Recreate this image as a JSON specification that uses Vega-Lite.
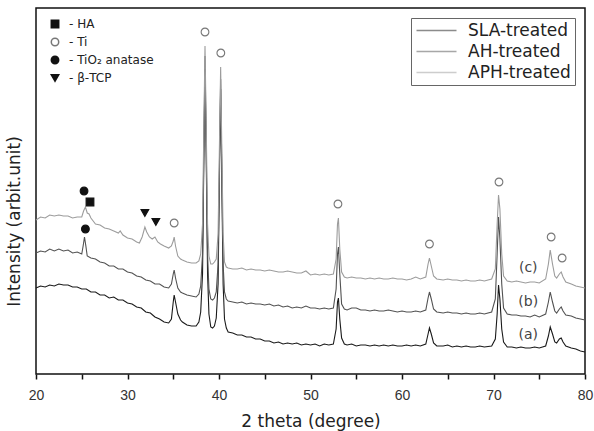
{
  "$schema": "https://vega.github.io/schema/vega-lite/v6.json",
  "width": 549,
  "height": 366,
  "autosize": {"type": "none"},
  "padding": {"left": 36, "top": 8, "right": 9, "bottom": 57},
  "background": "white",
  "config": {
    "view": {"stroke": "#111", "strokeWidth": 1.5},
    "font": "DejaVu Sans"
  },
  "datasets": {
    "a": [
      {"theta": 20.0, "intensity": 86}, {"theta": 20.5, "intensity": 88}, {"theta": 21.0, "intensity": 87}, {"theta": 21.5, "intensity": 89},
      {"theta": 22.0, "intensity": 88}, {"theta": 22.5, "intensity": 90}, {"theta": 23.0, "intensity": 89}, {"theta": 23.5, "intensity": 89},
      {"theta": 24.0, "intensity": 87}, {"theta": 24.5, "intensity": 87}, {"theta": 25.0, "intensity": 85}, {"theta": 25.5, "intensity": 85},
      {"theta": 26.0, "intensity": 82}, {"theta": 26.5, "intensity": 82}, {"theta": 27.0, "intensity": 79}, {"theta": 27.5, "intensity": 79},
      {"theta": 28.0, "intensity": 76}, {"theta": 28.5, "intensity": 77}, {"theta": 29.0, "intensity": 74}, {"theta": 29.5, "intensity": 74},
      {"theta": 30.0, "intensity": 71}, {"theta": 30.5, "intensity": 70}, {"theta": 31.0, "intensity": 67}, {"theta": 31.5, "intensity": 66},
      {"theta": 32.0, "intensity": 62}, {"theta": 32.5, "intensity": 61}, {"theta": 33.0, "intensity": 57}, {"theta": 33.5, "intensity": 55},
      {"theta": 34.0, "intensity": 52}, {"theta": 34.5, "intensity": 51}, {"theta": 34.8, "intensity": 55}, {"theta": 35.0, "intensity": 72},
      {"theta": 35.1, "intensity": 79}, {"theta": 35.25, "intensity": 72}, {"theta": 35.5, "intensity": 60}, {"theta": 35.8, "intensity": 54},
      {"theta": 36.0, "intensity": 52}, {"theta": 36.5, "intensity": 49}, {"theta": 37.0, "intensity": 48}, {"theta": 37.5, "intensity": 48},
      {"theta": 37.8, "intensity": 52}, {"theta": 38.0, "intensity": 62}, {"theta": 38.2, "intensity": 100}, {"theta": 38.35, "intensity": 220},
      {"theta": 38.47, "intensity": 305}, {"theta": 38.6, "intensity": 220}, {"theta": 38.75, "intensity": 100}, {"theta": 38.9, "intensity": 60},
      {"theta": 39.1, "intensity": 47}, {"theta": 39.3, "intensity": 46}, {"theta": 39.5, "intensity": 48}, {"theta": 39.7, "intensity": 56},
      {"theta": 39.9, "intensity": 90}, {"theta": 40.05, "intensity": 200}, {"theta": 40.18, "intensity": 285}, {"theta": 40.3, "intensity": 200},
      {"theta": 40.45, "intensity": 90}, {"theta": 40.6, "intensity": 55}, {"theta": 40.8, "intensity": 46}, {"theta": 41.0, "intensity": 42},
      {"theta": 41.5, "intensity": 41}, {"theta": 42.0, "intensity": 39}, {"theta": 42.5, "intensity": 39}, {"theta": 43.0, "intensity": 37},
      {"theta": 43.5, "intensity": 37}, {"theta": 44.0, "intensity": 35}, {"theta": 44.5, "intensity": 35}, {"theta": 45.0, "intensity": 33},
      {"theta": 45.5, "intensity": 33}, {"theta": 46.0, "intensity": 31}, {"theta": 46.5, "intensity": 32}, {"theta": 47.0, "intensity": 30},
      {"theta": 47.5, "intensity": 31}, {"theta": 48.0, "intensity": 30}, {"theta": 48.5, "intensity": 31}, {"theta": 49.0, "intensity": 29},
      {"theta": 49.5, "intensity": 30}, {"theta": 50.0, "intensity": 29}, {"theta": 50.5, "intensity": 30}, {"theta": 51.0, "intensity": 28},
      {"theta": 51.5, "intensity": 30}, {"theta": 52.0, "intensity": 29}, {"theta": 52.5, "intensity": 30}, {"theta": 52.8, "intensity": 45},
      {"theta": 52.95, "intensity": 72}, {"theta": 53.05, "intensity": 76}, {"theta": 53.2, "intensity": 55}, {"theta": 53.4, "intensity": 36},
      {"theta": 53.7, "intensity": 30}, {"theta": 54.0, "intensity": 29}, {"theta": 54.5, "intensity": 30}, {"theta": 55.0, "intensity": 28},
      {"theta": 55.5, "intensity": 29}, {"theta": 56.0, "intensity": 29}, {"theta": 56.5, "intensity": 28}, {"theta": 57.0, "intensity": 29},
      {"theta": 57.5, "intensity": 28}, {"theta": 58.0, "intensity": 29}, {"theta": 58.5, "intensity": 28}, {"theta": 59.0, "intensity": 29},
      {"theta": 59.5, "intensity": 28}, {"theta": 60.0, "intensity": 28}, {"theta": 60.5, "intensity": 29}, {"theta": 61.0, "intensity": 28},
      {"theta": 61.5, "intensity": 29}, {"theta": 62.0, "intensity": 28}, {"theta": 62.6, "intensity": 30}, {"theta": 62.85, "intensity": 40},
      {"theta": 63.0, "intensity": 46}, {"theta": 63.2, "intensity": 40}, {"theta": 63.45, "intensity": 31}, {"theta": 63.8, "intensity": 28},
      {"theta": 64.5, "intensity": 28}, {"theta": 65.0, "intensity": 29}, {"theta": 65.5, "intensity": 27}, {"theta": 66.0, "intensity": 28},
      {"theta": 66.5, "intensity": 27}, {"theta": 67.0, "intensity": 28}, {"theta": 67.5, "intensity": 27}, {"theta": 68.0, "intensity": 27},
      {"theta": 68.5, "intensity": 28}, {"theta": 69.0, "intensity": 27}, {"theta": 69.8, "intensity": 28}, {"theta": 70.2, "intensity": 35},
      {"theta": 70.4, "intensity": 60}, {"theta": 70.55, "intensity": 89}, {"theta": 70.7, "intensity": 75}, {"theta": 70.9, "intensity": 45},
      {"theta": 71.1, "intensity": 32}, {"theta": 71.5, "intensity": 27}, {"theta": 72.0, "intensity": 27}, {"theta": 72.5, "intensity": 26},
      {"theta": 73.0, "intensity": 27}, {"theta": 73.5, "intensity": 26}, {"theta": 74.0, "intensity": 26}, {"theta": 74.5, "intensity": 27},
      {"theta": 75.0, "intensity": 26}, {"theta": 75.7, "intensity": 28}, {"theta": 76.0, "intensity": 38}, {"theta": 76.2, "intensity": 47},
      {"theta": 76.45, "intensity": 40}, {"theta": 76.7, "intensity": 32}, {"theta": 76.9, "intensity": 31}, {"theta": 77.2, "intensity": 35},
      {"theta": 77.4, "intensity": 36}, {"theta": 77.6, "intensity": 32}, {"theta": 77.9, "intensity": 28}, {"theta": 78.5, "intensity": 26},
      {"theta": 79.0, "intensity": 25}, {"theta": 79.5, "intensity": 23}, {"theta": 80.0, "intensity": 22}
    ],
    "b": [
      {"theta": 20.0, "intensity": 121}, {"theta": 20.5, "intensity": 123}, {"theta": 21.0, "intensity": 122}, {"theta": 21.5, "intensity": 125},
      {"theta": 22.0, "intensity": 123}, {"theta": 22.5, "intensity": 125}, {"theta": 23.0, "intensity": 123}, {"theta": 23.5, "intensity": 124},
      {"theta": 24.0, "intensity": 121}, {"theta": 24.5, "intensity": 122}, {"theta": 25.0, "intensity": 120}, {"theta": 25.15, "intensity": 128},
      {"theta": 25.3, "intensity": 137}, {"theta": 25.45, "intensity": 128}, {"theta": 25.6, "intensity": 118}, {"theta": 26.0, "intensity": 116},
      {"theta": 26.5, "intensity": 115}, {"theta": 27.0, "intensity": 112}, {"theta": 27.5, "intensity": 111}, {"theta": 28.0, "intensity": 108},
      {"theta": 28.5, "intensity": 108}, {"theta": 29.0, "intensity": 105}, {"theta": 29.5, "intensity": 105}, {"theta": 30.0, "intensity": 102},
      {"theta": 30.5, "intensity": 101}, {"theta": 31.0, "intensity": 98}, {"theta": 31.5, "intensity": 97}, {"theta": 32.0, "intensity": 94},
      {"theta": 32.5, "intensity": 93}, {"theta": 33.0, "intensity": 90}, {"theta": 33.5, "intensity": 90}, {"theta": 34.0, "intensity": 87},
      {"theta": 34.5, "intensity": 86}, {"theta": 34.8, "intensity": 90}, {"theta": 35.0, "intensity": 100}, {"theta": 35.1, "intensity": 104},
      {"theta": 35.25, "intensity": 96}, {"theta": 35.5, "intensity": 86}, {"theta": 35.8, "intensity": 82}, {"theta": 36.0, "intensity": 81},
      {"theta": 36.5, "intensity": 79}, {"theta": 37.0, "intensity": 78}, {"theta": 37.5, "intensity": 77}, {"theta": 37.8, "intensity": 80},
      {"theta": 38.0, "intensity": 88}, {"theta": 38.2, "intensity": 120}, {"theta": 38.35, "intensity": 230}, {"theta": 38.47, "intensity": 318},
      {"theta": 38.6, "intensity": 230}, {"theta": 38.75, "intensity": 120}, {"theta": 38.9, "intensity": 85}, {"theta": 39.1, "intensity": 75},
      {"theta": 39.3, "intensity": 74}, {"theta": 39.5, "intensity": 76}, {"theta": 39.7, "intensity": 82}, {"theta": 39.9, "intensity": 110},
      {"theta": 40.05, "intensity": 210}, {"theta": 40.18, "intensity": 295}, {"theta": 40.3, "intensity": 210}, {"theta": 40.45, "intensity": 110},
      {"theta": 40.6, "intensity": 82}, {"theta": 40.8, "intensity": 75}, {"theta": 41.0, "intensity": 73}, {"theta": 41.5, "intensity": 72},
      {"theta": 42.0, "intensity": 71}, {"theta": 42.5, "intensity": 72}, {"theta": 43.0, "intensity": 70}, {"theta": 43.5, "intensity": 71},
      {"theta": 44.0, "intensity": 70}, {"theta": 44.5, "intensity": 70}, {"theta": 45.0, "intensity": 69}, {"theta": 45.5, "intensity": 70},
      {"theta": 46.0, "intensity": 68}, {"theta": 46.5, "intensity": 69}, {"theta": 47.0, "intensity": 67}, {"theta": 47.5, "intensity": 68},
      {"theta": 48.0, "intensity": 66}, {"theta": 48.5, "intensity": 67}, {"theta": 49.0, "intensity": 66}, {"theta": 49.5, "intensity": 68},
      {"theta": 50.0, "intensity": 66}, {"theta": 50.5, "intensity": 66}, {"theta": 51.0, "intensity": 65}, {"theta": 51.5, "intensity": 66},
      {"theta": 52.0, "intensity": 65}, {"theta": 52.5, "intensity": 66}, {"theta": 52.8, "intensity": 85}, {"theta": 52.95, "intensity": 120},
      {"theta": 53.05, "intensity": 127}, {"theta": 53.2, "intensity": 100}, {"theta": 53.4, "intensity": 70}, {"theta": 53.7, "intensity": 65},
      {"theta": 54.0, "intensity": 64}, {"theta": 54.5, "intensity": 66}, {"theta": 55.0, "intensity": 66}, {"theta": 55.5, "intensity": 64},
      {"theta": 56.0, "intensity": 64}, {"theta": 56.5, "intensity": 63}, {"theta": 57.0, "intensity": 64}, {"theta": 57.5, "intensity": 63},
      {"theta": 58.0, "intensity": 63}, {"theta": 58.5, "intensity": 64}, {"theta": 59.0, "intensity": 63}, {"theta": 59.5, "intensity": 62},
      {"theta": 60.0, "intensity": 63}, {"theta": 60.5, "intensity": 62}, {"theta": 61.0, "intensity": 62}, {"theta": 61.5, "intensity": 63},
      {"theta": 62.0, "intensity": 62}, {"theta": 62.6, "intensity": 64}, {"theta": 62.85, "intensity": 76}, {"theta": 63.0, "intensity": 82},
      {"theta": 63.2, "intensity": 75}, {"theta": 63.45, "intensity": 65}, {"theta": 63.8, "intensity": 62}, {"theta": 64.5, "intensity": 61},
      {"theta": 65.0, "intensity": 62}, {"theta": 65.5, "intensity": 61}, {"theta": 66.0, "intensity": 61}, {"theta": 66.5, "intensity": 60},
      {"theta": 67.0, "intensity": 61}, {"theta": 67.5, "intensity": 60}, {"theta": 68.0, "intensity": 60}, {"theta": 68.5, "intensity": 61},
      {"theta": 69.0, "intensity": 60}, {"theta": 69.8, "intensity": 62}, {"theta": 70.2, "intensity": 75}, {"theta": 70.4, "intensity": 120},
      {"theta": 70.55, "intensity": 157}, {"theta": 70.7, "intensity": 135}, {"theta": 70.9, "intensity": 90}, {"theta": 71.1, "intensity": 66},
      {"theta": 71.5, "intensity": 60}, {"theta": 72.0, "intensity": 59}, {"theta": 72.5, "intensity": 59}, {"theta": 73.0, "intensity": 58},
      {"theta": 73.5, "intensity": 58}, {"theta": 74.0, "intensity": 57}, {"theta": 74.5, "intensity": 59}, {"theta": 75.0, "intensity": 57},
      {"theta": 75.7, "intensity": 60}, {"theta": 76.0, "intensity": 72}, {"theta": 76.2, "intensity": 82}, {"theta": 76.45, "intensity": 72},
      {"theta": 76.7, "intensity": 63}, {"theta": 76.9, "intensity": 61}, {"theta": 77.2, "intensity": 65}, {"theta": 77.4, "intensity": 67},
      {"theta": 77.6, "intensity": 63}, {"theta": 77.9, "intensity": 59}, {"theta": 78.5, "intensity": 58}, {"theta": 79.0, "intensity": 56},
      {"theta": 79.5, "intensity": 55}, {"theta": 80.0, "intensity": 54}
    ],
    "c": [
      {"theta": 20.0, "intensity": 154}, {"theta": 20.5, "intensity": 157}, {"theta": 21.0, "intensity": 156}, {"theta": 21.5, "intensity": 159},
      {"theta": 22.0, "intensity": 158}, {"theta": 22.5, "intensity": 159}, {"theta": 23.0, "intensity": 158}, {"theta": 23.5, "intensity": 158},
      {"theta": 24.0, "intensity": 156}, {"theta": 24.5, "intensity": 157}, {"theta": 25.0, "intensity": 157}, {"theta": 25.2, "intensity": 163},
      {"theta": 25.4, "intensity": 167}, {"theta": 25.6, "intensity": 161}, {"theta": 25.8, "intensity": 160}, {"theta": 26.0, "intensity": 156},
      {"theta": 26.5, "intensity": 150}, {"theta": 27.0, "intensity": 149}, {"theta": 27.5, "intensity": 146}, {"theta": 28.0, "intensity": 145},
      {"theta": 28.5, "intensity": 143}, {"theta": 29.0, "intensity": 141}, {"theta": 29.2, "intensity": 143}, {"theta": 29.5, "intensity": 139},
      {"theta": 30.0, "intensity": 136}, {"theta": 30.5, "intensity": 135}, {"theta": 31.0, "intensity": 132}, {"theta": 31.3, "intensity": 131},
      {"theta": 31.6, "intensity": 137}, {"theta": 31.9, "intensity": 147}, {"theta": 32.1, "intensity": 142}, {"theta": 32.4, "intensity": 137},
      {"theta": 32.7, "intensity": 135}, {"theta": 33.0, "intensity": 137}, {"theta": 33.3, "intensity": 132}, {"theta": 33.6, "intensity": 130},
      {"theta": 34.0, "intensity": 128}, {"theta": 34.5, "intensity": 126}, {"theta": 34.8, "intensity": 128}, {"theta": 35.0, "intensity": 133},
      {"theta": 35.1, "intensity": 137}, {"theta": 35.25, "intensity": 128}, {"theta": 35.5, "intensity": 118}, {"theta": 35.8, "intensity": 115},
      {"theta": 36.0, "intensity": 114}, {"theta": 36.5, "intensity": 112}, {"theta": 37.0, "intensity": 111}, {"theta": 37.5, "intensity": 111},
      {"theta": 37.8, "intensity": 113}, {"theta": 38.0, "intensity": 120}, {"theta": 38.2, "intensity": 150}, {"theta": 38.35, "intensity": 250},
      {"theta": 38.47, "intensity": 328}, {"theta": 38.6, "intensity": 250}, {"theta": 38.75, "intensity": 150}, {"theta": 38.9, "intensity": 118},
      {"theta": 39.1, "intensity": 110}, {"theta": 39.3, "intensity": 110}, {"theta": 39.5, "intensity": 112}, {"theta": 39.7, "intensity": 115},
      {"theta": 39.9, "intensity": 140}, {"theta": 40.05, "intensity": 230}, {"theta": 40.18, "intensity": 307}, {"theta": 40.3, "intensity": 230},
      {"theta": 40.45, "intensity": 140}, {"theta": 40.6, "intensity": 112}, {"theta": 40.8, "intensity": 107}, {"theta": 41.0, "intensity": 106},
      {"theta": 41.5, "intensity": 105}, {"theta": 42.0, "intensity": 105}, {"theta": 42.5, "intensity": 106}, {"theta": 43.0, "intensity": 104},
      {"theta": 43.5, "intensity": 105}, {"theta": 44.0, "intensity": 104}, {"theta": 44.5, "intensity": 104}, {"theta": 45.0, "intensity": 103},
      {"theta": 45.5, "intensity": 104}, {"theta": 46.0, "intensity": 103}, {"theta": 46.5, "intensity": 102}, {"theta": 47.0, "intensity": 102},
      {"theta": 47.5, "intensity": 103}, {"theta": 48.0, "intensity": 102}, {"theta": 48.5, "intensity": 101}, {"theta": 49.0, "intensity": 101},
      {"theta": 49.5, "intensity": 103}, {"theta": 50.0, "intensity": 99}, {"theta": 50.5, "intensity": 100}, {"theta": 51.0, "intensity": 99},
      {"theta": 51.5, "intensity": 100}, {"theta": 52.0, "intensity": 99}, {"theta": 52.5, "intensity": 100}, {"theta": 52.8, "intensity": 115},
      {"theta": 52.95, "intensity": 150}, {"theta": 53.05, "intensity": 156}, {"theta": 53.2, "intensity": 125}, {"theta": 53.4, "intensity": 102},
      {"theta": 53.7, "intensity": 97}, {"theta": 54.0, "intensity": 96}, {"theta": 54.5, "intensity": 97}, {"theta": 55.0, "intensity": 96},
      {"theta": 55.5, "intensity": 96}, {"theta": 56.0, "intensity": 95}, {"theta": 56.5, "intensity": 96}, {"theta": 57.0, "intensity": 95},
      {"theta": 57.5, "intensity": 96}, {"theta": 58.0, "intensity": 95}, {"theta": 58.5, "intensity": 95}, {"theta": 59.0, "intensity": 96},
      {"theta": 59.5, "intensity": 95}, {"theta": 60.0, "intensity": 95}, {"theta": 60.5, "intensity": 94}, {"theta": 61.0, "intensity": 95},
      {"theta": 61.5, "intensity": 97}, {"theta": 62.0, "intensity": 95}, {"theta": 62.6, "intensity": 97}, {"theta": 62.85, "intensity": 110},
      {"theta": 63.0, "intensity": 116}, {"theta": 63.2, "intensity": 108}, {"theta": 63.45, "intensity": 98}, {"theta": 63.8, "intensity": 95},
      {"theta": 64.5, "intensity": 94}, {"theta": 65.0, "intensity": 95}, {"theta": 65.5, "intensity": 94}, {"theta": 66.0, "intensity": 94},
      {"theta": 66.5, "intensity": 93}, {"theta": 67.0, "intensity": 94}, {"theta": 67.5, "intensity": 93}, {"theta": 68.0, "intensity": 93},
      {"theta": 68.5, "intensity": 94}, {"theta": 69.0, "intensity": 93}, {"theta": 69.8, "intensity": 95}, {"theta": 70.2, "intensity": 105},
      {"theta": 70.4, "intensity": 150}, {"theta": 70.55, "intensity": 179}, {"theta": 70.7, "intensity": 165}, {"theta": 70.9, "intensity": 120},
      {"theta": 71.1, "intensity": 98}, {"theta": 71.5, "intensity": 93}, {"theta": 72.0, "intensity": 92}, {"theta": 72.5, "intensity": 93},
      {"theta": 73.0, "intensity": 92}, {"theta": 73.5, "intensity": 91}, {"theta": 74.0, "intensity": 92}, {"theta": 74.5, "intensity": 92},
      {"theta": 75.0, "intensity": 91}, {"theta": 75.7, "intensity": 95}, {"theta": 76.0, "intensity": 110}, {"theta": 76.2, "intensity": 124},
      {"theta": 76.45, "intensity": 110}, {"theta": 76.7, "intensity": 98}, {"theta": 76.9, "intensity": 96}, {"theta": 77.2, "intensity": 100},
      {"theta": 77.4, "intensity": 102}, {"theta": 77.6, "intensity": 97}, {"theta": 77.9, "intensity": 92}, {"theta": 78.5, "intensity": 90},
      {"theta": 79.0, "intensity": 88}, {"theta": 79.5, "intensity": 87}, {"theta": 80.0, "intensity": 86}
    ],
    "markers": [
      {"phase": "TiO₂ anatase", "theta": 25.25, "intensity": 183},
      {"phase": "HA", "theta": 25.9, "intensity": 172},
      {"phase": "TiO₂ anatase", "theta": 25.4, "intensity": 145},
      {"phase": "β-TCP", "theta": 31.9, "intensity": 161},
      {"phase": "β-TCP", "theta": 33.1, "intensity": 152},
      {"phase": "Ti", "theta": 35.1, "intensity": 151},
      {"phase": "Ti", "theta": 38.47, "intensity": 342},
      {"phase": "Ti", "theta": 40.2, "intensity": 321},
      {"phase": "Ti", "theta": 53.0, "intensity": 170},
      {"phase": "Ti", "theta": 63.0, "intensity": 130},
      {"phase": "Ti", "theta": 70.6, "intensity": 192},
      {"phase": "Ti", "theta": 76.3, "intensity": 137},
      {"phase": "Ti", "theta": 77.5, "intensity": 116}
    ],
    "tags": [
      {"tag": "(c)", "theta": 73.8, "intensity": 106},
      {"tag": "(b)", "theta": 73.8, "intensity": 72},
      {"tag": "(a)", "theta": 73.8, "intensity": 39}
    ]
  },
  "encoding": {
    "x": {
      "field": "theta",
      "type": "quantitative",
      "scale": {"domain": [20, 80], "nice": false, "zero": false},
      "axis": {
        "title": "2 theta (degree)",
        "grid": false,
        "domain": false,
        "values": [20, 25, 30, 35, 40, 45, 50, 55, 60, 65, 70, 75, 80],
        "labelExpr": "datum.value % 10 === 0 ? datum.label : ''",
        "tickSize": 5,
        "tickColor": "#111",
        "tickWidth": 1.5,
        "labelFont": "Liberation Sans",
        "labelFontSize": 14,
        "labelColor": "#333",
        "labelPadding": 9,
        "labelFlush": false,
        "titleFont": "DejaVu Sans",
        "titleFontSize": 17,
        "titleFontWeight": "normal",
        "titleColor": "#222",
        "titlePadding": 11
      }
    },
    "y": {
      "field": "intensity",
      "type": "quantitative",
      "scale": {"domain": [0, 366], "nice": false},
      "axis": {
        "title": "Intensity (arbit.unit)",
        "ticks": false,
        "labels": false,
        "domain": false,
        "grid": false,
        "titleX": -22,
        "titleY": 213,
        "titleAngle": -90,
        "titleAlign": "center",
        "titleBaseline": "middle",
        "titleFont": "DejaVu Sans",
        "titleFontSize": 17,
        "titleFontWeight": "normal",
        "titleColor": "#222"
      }
    }
  },
  "layer": [
    {
      "data": {"name": "a"},
      "mark": {"type": "line", "strokeWidth": 1.1},
      "encoding": {
        "color": {
          "datum": "SLA-treated",
          "type": "nominal",
          "scale": {"domain": ["SLA-treated", "AH-treated", "APH-treated"], "range": ["#1a1a1a", "#525252", "#9c9c9c"]},
          "legend": {
            "title": null,
            "orient": "top-right",
            "offset": 10,
            "symbolType": "M-4,0H4",
            "symbolSize": 100,
            "symbolStrokeWidth": 1.5,
            "symbolOpacity": 0.5,
            "symbolOffset": 13,
            "labelOffset": 23,
            "labelFont": "DejaVu Sans",
            "labelFontSize": 17,
            "labelColor": "#222",
            "strokeColor": "#666",
            "fillColor": "white",
            "padding": 4,
            "rowPadding": 3,
            "cornerRadius": 0
          }
        }
      }
    },
    {
      "data": {"name": "b"},
      "mark": {"type": "line", "strokeWidth": 1.1},
      "encoding": {"color": {"datum": "AH-treated", "type": "nominal"}}
    },
    {
      "data": {"name": "c"},
      "mark": {"type": "line", "strokeWidth": 1.1},
      "encoding": {"color": {"datum": "APH-treated", "type": "nominal"}}
    },
    {
      "data": {"name": "markers"},
      "mark": {"type": "point", "filled": true, "size": 60, "strokeWidth": 1.1, "opacity": 1},
      "encoding": {
        "shape": {
          "field": "phase",
          "type": "nominal",
          "scale": {"domain": ["HA", "Ti", "TiO₂ anatase", "β-TCP"], "range": ["square", "circle", "circle", "triangle-down"]},
          "legend": {
            "title": null,
            "orient": "top-left",
            "offset": 10,
            "padding": 0,
            "symbolSize": 55,
            "symbolOffset": 3,
            "labelOffset": 8,
            "rowPadding": 4,
            "labelFont": "DejaVu Sans",
            "labelFontSize": 12,
            "labelColor": "#222",
            "labelExpr": "'- ' + datum.label"
          }
        },
        "fill": {
          "field": "phase",
          "type": "nominal",
          "scale": {"domain": ["HA", "Ti", "TiO₂ anatase", "β-TCP"], "range": ["#111", "#ffffff", "#111", "#111"]},
          "legend": {
            "title": null,
            "orient": "top-left",
            "offset": 10,
            "padding": 0,
            "symbolSize": 55,
            "symbolOffset": 3,
            "labelOffset": 8,
            "rowPadding": 4,
            "labelFont": "DejaVu Sans",
            "labelFontSize": 12,
            "labelColor": "#222",
            "labelExpr": "'- ' + datum.label"
          }
        },
        "stroke": {
          "field": "phase",
          "type": "nominal",
          "scale": {"domain": ["HA", "Ti", "TiO₂ anatase", "β-TCP"], "range": ["#111", "#777777", "#111", "#111"]},
          "legend": {
            "title": null,
            "orient": "top-left",
            "offset": 10,
            "padding": 0,
            "symbolSize": 55,
            "symbolOffset": 3,
            "labelOffset": 8,
            "rowPadding": 4,
            "labelFont": "DejaVu Sans",
            "labelFontSize": 12,
            "labelColor": "#222",
            "labelExpr": "'- ' + datum.label"
          }
        }
      }
    },
    {
      "data": {"name": "tags"},
      "mark": {"type": "text", "font": "DejaVu Sans", "fontSize": 14, "color": "#444", "align": "center", "baseline": "middle"},
      "encoding": {"text": {"field": "tag"}}
    }
  ]
}
